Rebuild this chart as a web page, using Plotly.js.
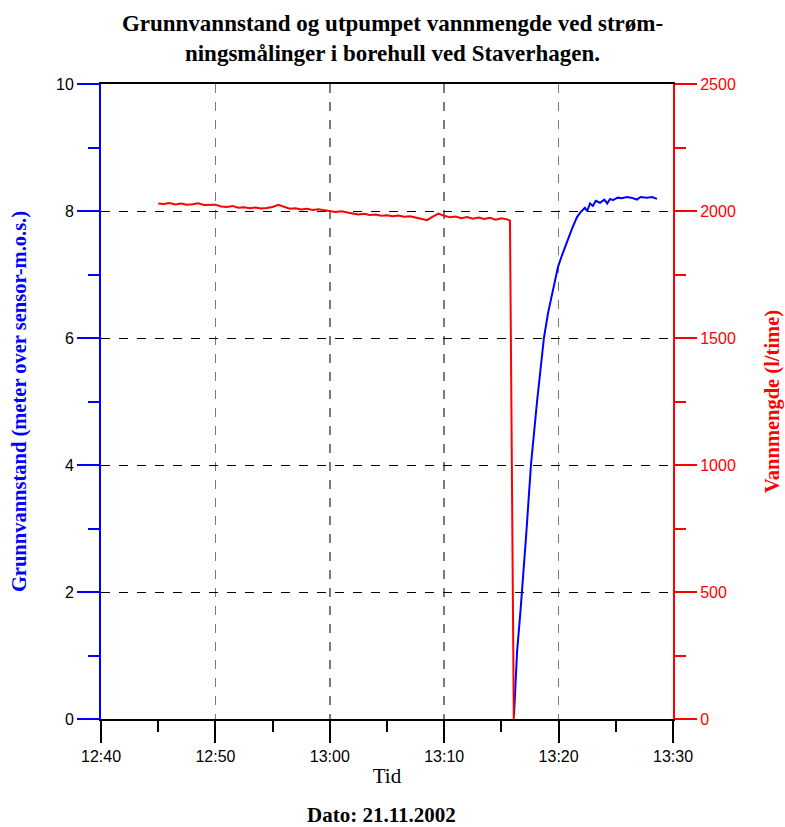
<!DOCTYPE html>
<html>
<head>
<meta charset="utf-8">
<script src="https://cdn.plot.ly/plotly-3.0.1.min.js"></script>
<style>html,body{margin:0;padding:0;background:#fff;}#chart{width:785px;height:827px;}</style>
</head>
<body>
<div id="chart"></div>
<script>
const day = '2002-11-21 ';
const redTimes = ['12:45:00','12:45:30','12:46:00','12:46:30','12:47:00','12:47:30','12:48:00','12:48:30','12:49:00','12:49:30',
  '12:50:00','12:50:30','12:51:00','12:51:30','12:52:00','12:52:30','12:53:00','12:53:30','12:54:00','12:54:30',
  '12:55:00','12:55:30','12:56:00','12:56:30','12:57:00','12:57:30','12:58:00','12:58:30','12:59:00','12:59:30',
  '13:00:00','13:00:30','13:01:00','13:01:30','13:02:00','13:02:30','13:03:00','13:03:30','13:04:00','13:04:30',
  '13:05:00','13:05:30','13:06:00','13:06:30','13:07:00','13:07:30','13:08:00','13:08:30','13:09:00','13:09:30',
  '13:10:00','13:10:30','13:11:00','13:11:30','13:12:00','13:12:30','13:13:00','13:13:30','13:14:00','13:14:30',
  '13:15:00','13:15:30','13:15:45','13:16:05'];
const redValues = [2030,2028,2031,2026,2029,2025,2027,2030,2024,2026,
  2025,2018,2016,2020,2013,2015,2011,2014,2010,2012,
  2016,2024,2018,2009,2011,2006,2009,2004,2007,2003,
  2001,1996,1999,1993,1990,1986,1989,1984,1986,1981,
  1983,1979,1982,1977,1979,1974,1970,1964,1978,1990,
  1981,1975,1978,1972,1976,1970,1974,1969,1973,1966,
  1971,1967,1962,0];
const blueTimes = ['13:16:06','13:16:22','13:16:40','13:16:53','13:17:10','13:17:35','13:17:50','13:18:07','13:18:25','13:18:43',
  '13:19:05','13:19:25','13:19:45','13:19:57','13:20:15','13:20:30','13:20:49','13:21:10','13:21:36','13:21:55',
  '13:22:18','13:22:30','13:22:45','13:23:00','13:23:15','13:23:37','13:24:00','13:24:15','13:24:30','13:24:45',
  '13:25:10','13:25:30','13:25:59','13:26:20','13:26:51','13:27:10','13:27:44','13:28:10','13:28:36'];
const blueValues = [0.05,1.05,1.7,2.2,2.9,4.0,4.5,5.0,5.5,6.0,
  6.4,6.7,6.95,7.12,7.28,7.4,7.57,7.72,7.9,7.98,
  8.05,8.0,8.12,8.08,8.16,8.13,8.18,8.12,8.19,8.17,
  8.21,8.2,8.22,8.21,8.18,8.22,8.21,8.22,8.19];

const serif = '"Liberation Serif", "Times New Roman", serif';
const sans = '"Liberation Sans", Arial, sans-serif';

const traces = [
  {x: blueTimes.map(t => day + t), y: blueValues, type: 'scatter', mode: 'lines',
   line: {color: '#0000ff', width: 2}, yaxis: 'y', hoverinfo: 'x+y'},
  {x: redTimes.map(t => day + t), y: redValues, type: 'scatter', mode: 'lines',
   line: {color: '#ff0000', width: 2}, yaxis: 'y2', hoverinfo: 'x+y'}
];

const layout = {
  width: 785, height: 827,
  margin: {l: 101, r: 112, t: 84, b: 108},
  paper_bgcolor: '#fff', plot_bgcolor: '#fff',
  showlegend: false,
  title: {text: 'Grunnvannstand og utpumpet vannmengde ved strøm-<br>ningsmålinger i borehull ved Staverhagen.',
          font: {family: serif, size: 23, color: '#000', weight: 'bold'},
          x: 0.5, xref: 'container', y: 1 - 31/827, yref: 'container', yanchor: 'top'},
  xaxis: {
    type: 'date', range: [day + '12:40:00', day + '13:30:00'],
    dtick: 600000, tick0: day + '12:40:00', tickformat: '%H:%M',
    ticks: 'outside', ticklen: 22, tickwidth: 2, tickcolor: '#000',
    minor: {dtick: 300000, ticks: 'outside', ticklen: 11, tickwidth: 2, tickcolor: '#000', showgrid: false},
    showline: true, linecolor: '#000', linewidth: 2, mirror: true,
    showgrid: true, gridcolor: '#7a7a7a', gridwidth: 1.5, griddash: 'dash',
    zeroline: false,
    tickfont: {family: sans, size: 16, color: '#000'},
    title: {text: 'Tid', font: {family: serif, size: 21, color: '#000'}, standoff: 4}
  },
  yaxis: {
    range: [0, 10], dtick: 2, tick0: 0,
    ticks: 'outside', ticklen: 22, tickwidth: 2, tickcolor: '#0000ff',
    minor: {dtick: 1, ticks: 'outside', ticklen: 11, tickwidth: 2, tickcolor: '#0000ff', showgrid: false},
    showline: true, linecolor: '#0000ff', linewidth: 2,
    showgrid: true, gridcolor: '#000', gridwidth: 1, griddash: 'dash',
    zeroline: false,
    tickfont: {family: sans, size: 16, color: '#000'},
    title: {text: 'Grunnvannstand (meter over sensor-m.o.s.)', font: {family: serif, size: 20.5, color: '#0000ff', weight: 'bold'}, standoff: 24}
  },
  yaxis2: {
    range: [0, 2500], dtick: 500, tick0: 0, overlaying: 'y', side: 'right',
    ticks: 'outside', ticklen: 22, tickwidth: 2, tickcolor: '#ff0000',
    minor: {dtick: 250, ticks: 'outside', ticklen: 11, tickwidth: 2, tickcolor: '#ff0000', showgrid: false},
    showline: true, linecolor: '#ff0000', linewidth: 2,
    showgrid: false, zeroline: false,
    tickfont: {family: sans, size: 16, color: '#ff0000'},
    title: {text: 'Vannmengde (l/time)', font: {family: serif, size: 20.5, color: '#ff0000', weight: 'bold'}, standoff: 30}
  },
  annotations: [
    {text: 'Dato: 21.11.2002', xref: 'paper', yref: 'paper', x: 0.49, y: -0.151,
     xanchor: 'center', yanchor: 'middle', showarrow: false,
     font: {family: serif, size: 21, color: '#000', weight: 'bold'}}
  ]
};

Plotly.newPlot('chart', traces, layout, {displayModeBar: false, staticPlot: true});
</script>
</body>
</html>
